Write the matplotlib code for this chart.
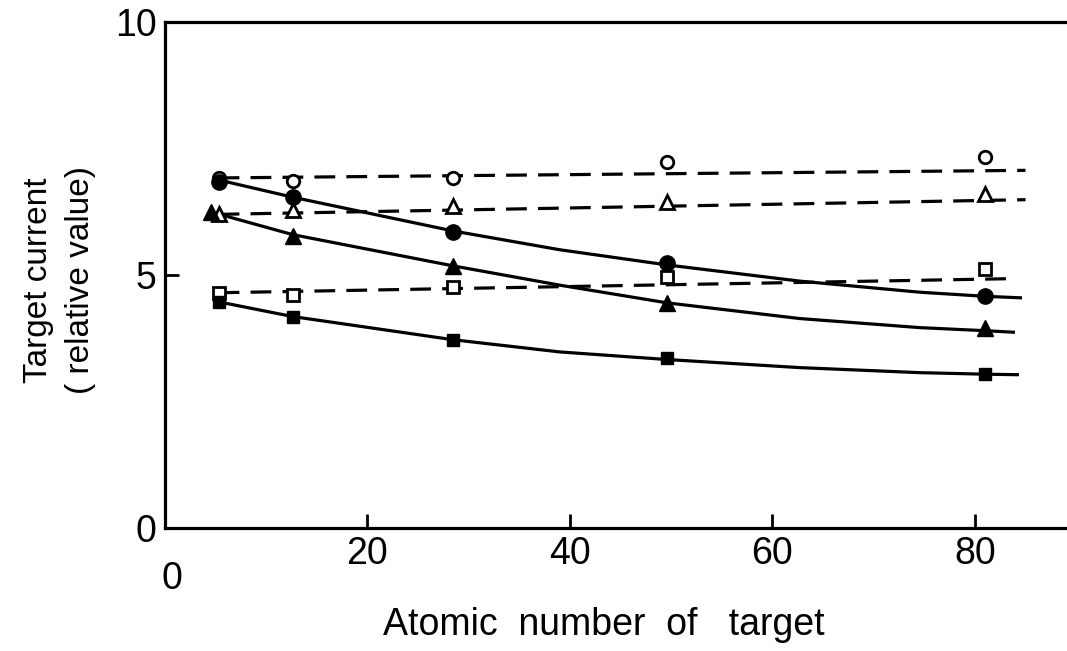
import matplotlib
matplotlib.use("Agg")
import matplotlib.pyplot as plt

"""Atomic numbers of the targets (as read off the chart)"""
Z = [5.3, 12.6, 28.5, 49.6, 81]
Z_FILLED_TRI = [4.5, 12.6, 28.5, 49.6, 81]

"""Measured points, open markers (dashed lines)"""
OPEN_CIRCLE = [6.92, 6.86, 6.92, 7.24, 7.34]
OPEN_TRIANGLE = [6.21, 6.28, 6.36, 6.45, 6.60]
OPEN_SQUARE = [4.64, 4.60, 4.76, 4.97, 5.12]

"""Measured points, filled markers (solid curves)"""
FILLED_CIRCLE = [6.84, 6.54, 5.85, 5.24, 4.58]
FILLED_TRIANGLE = [6.25, 5.77, 5.18, 4.45, 3.95]
FILLED_SQUARE = [4.47, 4.17, 3.72, 3.36, 3.04]

"""Dashed straight lines: end points"""
DASH_X = [5.3, 85]
DASH_CIRCLE = [6.92, 7.07]
DASH_TRIANGLE = [6.20, 6.49]
DASH_SQUARE_X = [5.3, 84]
DASH_SQUARE = [4.65, 4.93]

"""Solid curves read off the chart"""
CURVE_X = [5.3, 12.6, 28.5, 39, 49.6, 62.7, 74.6, 81, 84.5]
CURVE_CIRCLE = [6.88, 6.54, 5.87, 5.50, 5.20, 4.88, 4.66, 4.58, 4.55]
CURVE_TRI_X = [4.5, 12.6, 28.5, 39, 49.6, 62.7, 74.6, 81, 83.8]
CURVE_TRIANGLE = [6.25, 5.80, 5.18, 4.80, 4.45, 4.14, 3.96, 3.90, 3.87]
CURVE_SQ_X = [5.3, 12.6, 28.5, 39, 49.6, 62.7, 74.6, 81, 84.2]
CURVE_SQUARE = [4.47, 4.18, 3.72, 3.48, 3.33, 3.17, 3.07, 3.04, 3.03]

X_TICKS = [20, 40, 60, 80]
Y_TICKS = [0, 5, 10]

plt.rcParams['font.family'] = ['Liberation Sans', 'DejaVu Sans']

fig = plt.figure(figsize=(10.67, 6.51), dpi=100)
ax = fig.add_axes([0.1546, 0.189, 0.8454, 0.777])

LW = 2.3
DASHES = (6.5, 3.5)

# dashed lines (open markers)
for xs, ys in [(DASH_X, DASH_CIRCLE), (DASH_X, DASH_TRIANGLE),
               (DASH_SQUARE_X, DASH_SQUARE)]:
    ax.plot(xs, ys, color='black', lw=LW, dashes=DASHES, zorder=2)

# solid curves (filled markers)
ax.plot(CURVE_X, CURVE_CIRCLE, color='black', lw=LW, zorder=2)
ax.plot(CURVE_TRI_X, CURVE_TRIANGLE, color='black', lw=LW, zorder=2)
ax.plot(CURVE_SQ_X, CURVE_SQUARE, color='black', lw=LW, zorder=2)

# markers
ax.plot(Z, OPEN_CIRCLE, 'o', ms=9, mfc='white', mec='black', mew=2, zorder=3)
ax.plot(Z, OPEN_TRIANGLE, '^', ms=10, mfc='white', mec='black', mew=2, zorder=3)
ax.plot(Z, OPEN_SQUARE, 's', ms=8, mfc='white', mec='black', mew=2, zorder=3)
ax.plot(Z, FILLED_CIRCLE, 'o', ms=11, color='black', zorder=4)
ax.plot(Z_FILLED_TRI, FILLED_TRIANGLE, '^', ms=11, color='black', zorder=4)
ax.plot(Z, FILLED_SQUARE, 's', ms=9, color='black', zorder=4)

ax.set_xlim(0, 89.1)
ax.set_ylim(0, 10)

ax.spines['right'].set_visible(False)
for side in ['left', 'bottom', 'top']:
    ax.spines[side].set_linewidth(2.3)

ax.set_xticks(X_TICKS)
ax.set_xticklabels([str(v) for v in X_TICKS], fontsize=27)
ax.set_yticks(Y_TICKS)
ax.set_yticklabels(['0', '5', '10'], fontsize=27)
ax.tick_params(axis='both', direction='in', length=10, width=2)
ax.tick_params(axis='x', pad=6)
ax.tick_params(axis='y', pad=6)

# origin label on the x axis sits below-left
ax.text(0.7, -0.065, '0', transform=ax.get_xaxis_transform(),
        fontsize=27, ha='center', va='top')

fig.text(0.566, 0.04, 'Atomic  number  of   target', fontsize=27,
         ha='center', va='center')
fig.text(0.036, 0.57, 'Target current', fontsize=24, rotation=90,
         ha='center', va='center')
fig.text(0.075, 0.57, '( relative value)', fontsize=24, rotation=90,
         ha='center', va='center')

plt.savefig('out.png', dpi=100)
